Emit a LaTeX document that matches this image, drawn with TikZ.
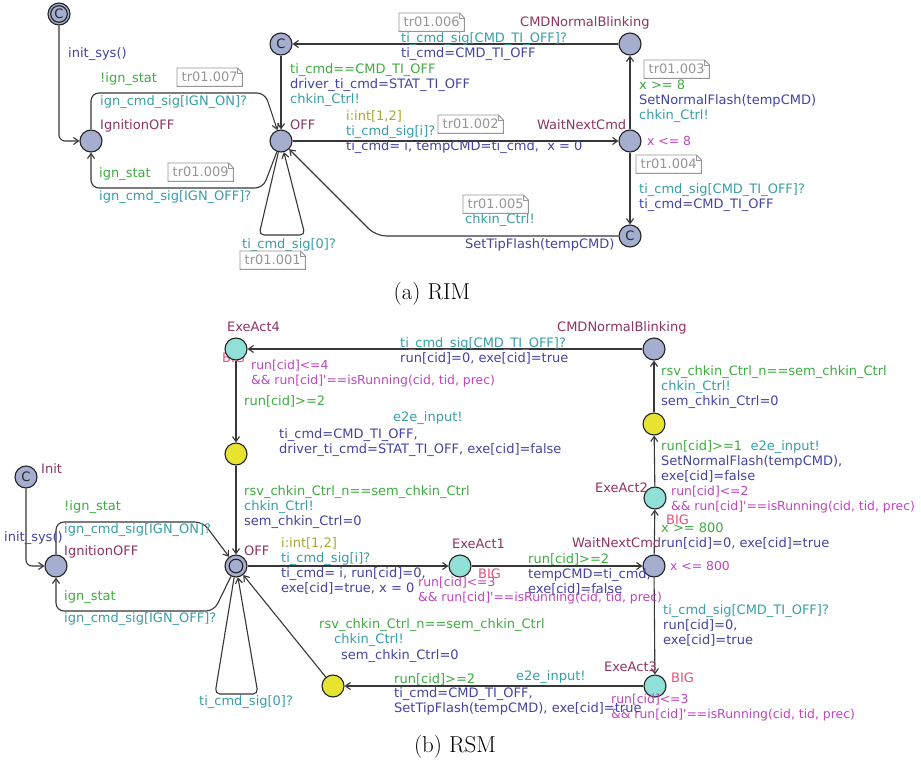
\documentclass[tikz,border=0pt]{standalone}
\usepackage{fontspec}
\newfontfamily\dv{DejaVu Sans}[Ligatures=ResetAll]
\usetikzlibrary{arrows.meta}
\definecolor{locc}{RGB}{142,52,98}
\definecolor{grn}{RGB}{64,172,64}
\definecolor{tea}{RGB}{56,158,168}
\definecolor{blu}{RGB}{68,68,160}
\definecolor{oli}{RGB}{168,168,48}
\definecolor{inv}{RGB}{190,70,190}
\definecolor{pnk}{RGB}{232,80,120}
\definecolor{nfill}{RGB}{165,174,206}
\definecolor{tfill}{RGB}{144,224,216}
\definecolor{yfill}{RGB}{232,226,48}
\definecolor{notec}{RGB}{150,150,150}
\definecolor{edgec}{RGB}{55,55,55}
\definecolor{nline}{RGB}{35,35,35}
\newcommand\lf{\dv\fontsize{13}{15}\selectfont}
\newcommand\lfi{\dv\fontsize{12.4}{15}\selectfont}
\newcommand\notebox[3]{%
  \node[notetext] (#1) at (#2) {#3};
  \draw[notedraw] (#1.south west) -- (#1.north west) -- ([xshift=-5pt]#1.north east) -- ([yshift=-5pt]#1.north east) -- (#1.south east) -- cycle;
  \draw[notedraw] ([xshift=-5pt]#1.north east) -- ([xshift=-5pt,yshift=-5pt]#1.north east) -- ([yshift=-5pt]#1.north east);}
\tikzset{
  loc/.style={circle, draw=nline, line width=1.1pt, fill=nfill, minimum size=22pt, inner sep=0pt, font=\lf, text=black!85},
  act/.style={loc, fill=tfill},
  yel/.style={loc, fill=yfill},
  edge/.style={draw=edgec, line width=1.1pt, -{Straight Barb[length=5pt,width=7pt]}},
  lbl/.style={anchor=base west, inner sep=0pt, align=left, font=\lf},
  nm/.style={lbl, text=locc},
  gd/.style={lbl, text=grn},
  sy/.style={lbl, text=tea},
  up/.style={lbl, text=blu},
  sel/.style={lbl, text=oli},
  iv/.style={lbl, text=inv, font=\lfi},
  big/.style={lbl, text=pnk},
  notetext/.style={anchor=north west, inner sep=0pt, minimum width=65pt, minimum height=18pt, text=notec, font=\lf},
  notedraw/.style={draw=notec, line width=0.9pt},
  captxt/.style={anchor=base, inner sep=0pt, font=\fontsize{23}{28}\selectfont}
}
\begin{document}
\begin{tikzpicture}[x=1pt,y=-1pt]
\useasboundingbox[fill=white] (0,0) rectangle (921,761);
% ================= (a) RIM =================
\node[loc] (initA) at (59,14) {C};
\draw[nline, line width=1.1pt] (initA) circle[radius=8.3pt];
\node[loc] (ignA) at (91,141) {};
\node[loc] (offA) at (281,141) {};
\node[loc] (cA) at (281,44) {C};
\node[loc] (cmdA) at (630,44) {};
\node[loc] (waitA) at (630,141) {};
\node[loc] (c2A) at (630,236) {C};

\draw[edge, rounded corners=6pt] (initA) -- (59,141) -- (ignA);
\draw[edge, rounded corners=8pt] (ignA) -- (91,93) -- (265,93) -- (offA);
\draw[edge, rounded corners=8pt] (offA) -- (263,188) -- (91,188) -- (ignA);
\draw[edge] (cA) -- (offA);
\draw[edge] (offA) -- (waitA);
\draw[edge] (waitA) -- (cmdA);
\draw[edge] (cmdA) -- (cA);
\draw[edge] (waitA) -- (c2A);
\draw[edge, rounded corners=10pt] (c2A) -- (376,236) -- (offA);
\draw[edge, rounded corners=5pt] (offA) -- (259,235) -- (305,235) -- (offA);

\node[up] (la1) at (68,57) {init\_sys()};
\node[gd] (la2) at (100,82) {!ign\_stat};
\node[sy] (la3) at (100,105) {ign\_cmd\_sig[IGN\_ON]?};
\node[nm] (la4) at (100,129) {IgnitionOFF};
\node[gd] (la5) at (99,177) {ign\_stat};
\node[sy] (la6) at (99,200) {ign\_cmd\_sig[IGN\_OFF]?};
\node[nm] (la7) at (290,129) {OFF};
\node[lbl] (la8) at (290,103) {\textcolor{grn}{ti\_cmd==CMD\_TI\_OFF}\\\textcolor{blu}{driver\_ti\_cmd=STAT\_TI\_OFF}\\\textcolor{tea}{chkin\_Ctrl!}};
\node[lbl] (la9) at (346,150) {\textcolor{oli}{i:int[1,2]}\\\textcolor{tea}{ti\_cmd\_sig[i]?}\\\textcolor{blu}{ti\_cmd= i, tempCMD=ti\_cmd,~ x = 0}};
\node[nm] (la10) at (520,26) {CMDNormalBlinking};
\node[lbl] (la11) at (401,57) {\textcolor{tea}{ti\_cmd\_sig[CMD\_TI\_OFF]?}\\\textcolor{blu}{ti\_cmd=CMD\_TI\_OFF}};
\node[nm] (la12) at (537,129) {WaitNextCmd};
\node[iv] (la13) at (647,145) {x <= 8};
\node[lbl] (la14) at (639,119) {\textcolor{grn}{x >= 8}\\\textcolor{blu}{SetNormalFlash(tempCMD)}\\\textcolor{tea}{chkin\_Ctrl!}};
\node[lbl] (la15) at (639,208) {\textcolor{tea}{ti\_cmd\_sig[CMD\_TI\_OFF]?}\\\textcolor{blu}{ti\_cmd=CMD\_TI\_OFF}};
\node[sy] (la16) at (465,223) {chkin\_Ctrl!};
\node[up] (la17) at (465,248) {SetTipFlash(tempCMD)};
\node[sy] (la18) at (242,248) {ti\_cmd\_sig[0]?};

\notebox{n7}{177,68}{tr01.007}
\notebox{n9}{168,163}{tr01.009}
\notebox{n1}{240,251}{tr01.001}
\notebox{n6}{399,13}{tr01.006}
\notebox{n2}{438,115}{tr01.002}
\notebox{n3}{644,60}{tr01.003}
\notebox{n4}{636,155}{tr01.004}
\notebox{n5}{463,195}{tr01.005}

\node[captxt] (capA) at (432,299) {(a) RIM};

% ================= (b) RSM =================
\node[big] (big4) at (222,362) {BIG};
\node[loc] (initB) at (26,477) {C};
\node[loc] (ignB) at (56,566) {};
\node[loc] (offB) at (236,566) {};
\draw[nline, line width=1.1pt] (offB) circle[radius=6.8pt];
\node[act] (exe4) at (236,349) {};
\node[yel] (yel1) at (236,454) {};
\node[loc] (cmdB) at (654,349) {};
\node[yel] (yel2) at (654,424) {};
\node[act] (exe2) at (655,498) {};
\node[loc] (waitB) at (654,566) {};
\node[act] (exe1) at (460,566) {};
\node[act] (exe3) at (655,686) {};
\node[yel] (yel3) at (333,686) {};

\draw[edge, rounded corners=6pt] (initB) -- (26,566) -- (ignB);
\draw[edge, rounded corners=8pt] (ignB) -- (56,522) -- (203,522) -- (offB);
\draw[edge, rounded corners=8pt] (offB) -- (214,611) -- (56,611) -- (ignB);
\draw[edge, rounded corners=5pt] (offB) -- (215,694) -- (258,694) -- (offB);
\draw[edge] (exe4) -- (yel1);
\draw[edge] (yel1) -- (offB);
\draw[edge] (cmdB) -- (exe4);
\draw[edge] (yel2) -- (cmdB);
\draw[edge] (exe2) -- (yel2);
\draw[edge] (waitB) -- (exe2);
\draw[edge] (offB) -- (exe1);
\draw[edge] (exe1) -- (waitB);
\draw[edge] (waitB) -- (exe3);
\draw[edge] (exe3) -- (yel3);
\draw[edge] (yel3) -- (offB);

\node[nm] (lb1) at (41,473) {Init};
\node[up] (lb2) at (4,541) {init\_sys()};
\node[gd] (lb3) at (64,510) {!ign\_stat};
\node[sy] (lb4) at (64,533) {ign\_cmd\_sig[IGN\_ON]?};
\node[nm] (lb5) at (64,555) {IgnitionOFF};
\node[gd] (lb6) at (64,600) {ign\_stat};
\node[sy] (lb7) at (64,622) {ign\_cmd\_sig[IGN\_OFF]?};
\node[nm] (lb8) at (244,555) {OFF};
\node[sy] (lb9) at (199,705) {ti\_cmd\_sig[0]?};
\node[nm] (lb10) at (227,331) {ExeAct4};
\node[iv] (lb11) at (251,384) {run[cid]<=4\\\&\& run[cid]'==isRunning(cid, tid, prec)};
\node[nm] (lb12) at (557,331) {CMDNormalBlinking};
\node[lbl] (lb13) at (400,362) {\textcolor{tea}{ti\_cmd\_sig[CMD\_TI\_OFF]?}\\\textcolor{blu}{run[cid]=0, exe[cid]=true}};
\node[gd] (lb14) at (244,405) {run[cid]>=2};
\node[sy] (lb15) at (393,421) {e2e\_input!};
\node[up] (lb16) at (279,453) {ti\_cmd=CMD\_TI\_OFF,\\driver\_ti\_cmd=STAT\_TI\_OFF, exe[cid]=false};
\node[lbl] (lb17) at (244,525) {\textcolor{grn}{rsv\_chkin\_Ctrl\_n==sem\_chkin\_Ctrl}\\\textcolor{tea}{chkin\_Ctrl!}\\\textcolor{blu}{sem\_chkin\_Ctrl=0}};
\node[lbl] (lb18) at (661,405) {\textcolor{grn}{rsv\_chkin\_Ctrl\_n==sem\_chkin\_Ctrl}\\\textcolor{tea}{chkin\_Ctrl!}\\\textcolor{blu}{sem\_chkin\_Ctrl=0}};
\node[lbl] (lb19) at (661,480) {\textcolor{grn}{run[cid]>=1}~ \textcolor{tea}{e2e\_input!}\\\textcolor{blu}{SetNormalFlash(tempCMD),}\\\textcolor{blu}{exe[cid]=false}};
\node[nm] (lb20) at (595,492) {ExeAct2};
\node[iv] (lb21) at (671,510) {run[cid]<=2\\\&\& run[cid]'==isRunning(cid, tid, prec)};
\node[big] (lb22) at (666,524) {BIG};
\node[lbl] (lb23) at (661,547) {\textcolor{grn}{x >= 800}\\\textcolor{blu}{run[cid]=0, exe[cid]=true}};
\node[nm] (lb24) at (572,547) {WaitNextCmd};
\node[iv] (lb25) at (670,570) {x <= 800};
\node[lbl] (lb26) at (281,592) {\textcolor{oli}{i:int[1,2]}\\\textcolor{tea}{ti\_cmd\_sig[i]?}\\\textcolor{blu}{ti\_cmd= i, run[cid]=0,}\\\textcolor{blu}{exe[cid]=true, x = 0}};
\node[nm] (lb27) at (452,548) {ExeAct1};
\node[big] (lb28) at (478,578) {BIG};
\node[iv] (lb29) at (418,601) {run[cid]<=3\\\&\& run[cid]'==isRunning(cid, tid, prec)};
\node[lbl] (lb30) at (528,593) {\textcolor{grn}{run[cid]>=2}\\\textcolor{blu}{tempCMD=ti\_cmd,}\\\textcolor{blu}{exe[cid]=false}};
\node[lbl] (lb31) at (663,644) {\textcolor{tea}{ti\_cmd\_sig[CMD\_TI\_OFF]?}\\\textcolor{blu}{run[cid]=0,}\\\textcolor{blu}{exe[cid]=true}};
\node[nm] (lb32) at (604,671) {ExeAct3};
\node[big] (lb33) at (671,682) {BIG};
\node[iv] (lb34) at (611,718) {run[cid]<=3\\\&\& run[cid]'==isRunning(cid, tid, prec)};
\node[gd] (lb35) at (394,683) {run[cid]>=2};
\node[sy] (lb36) at (516,680) {e2e\_input!};
\node[up] (lb37) at (394,712) {ti\_cmd=CMD\_TI\_OFF,\\SetTipFlash(tempCMD), exe[cid]=true};
\node[gd] (lb38) at (319,628) {rsv\_chkin\_Ctrl\_n==sem\_chkin\_Ctrl};
\node[sy] (lb39) at (334,643) {chkin\_Ctrl!};
\node[up] (lb40) at (341,659) {sem\_chkin\_Ctrl=0};

\node[captxt] (capB) at (455,752) {(b) RSM};
\end{tikzpicture}
\end{document}
